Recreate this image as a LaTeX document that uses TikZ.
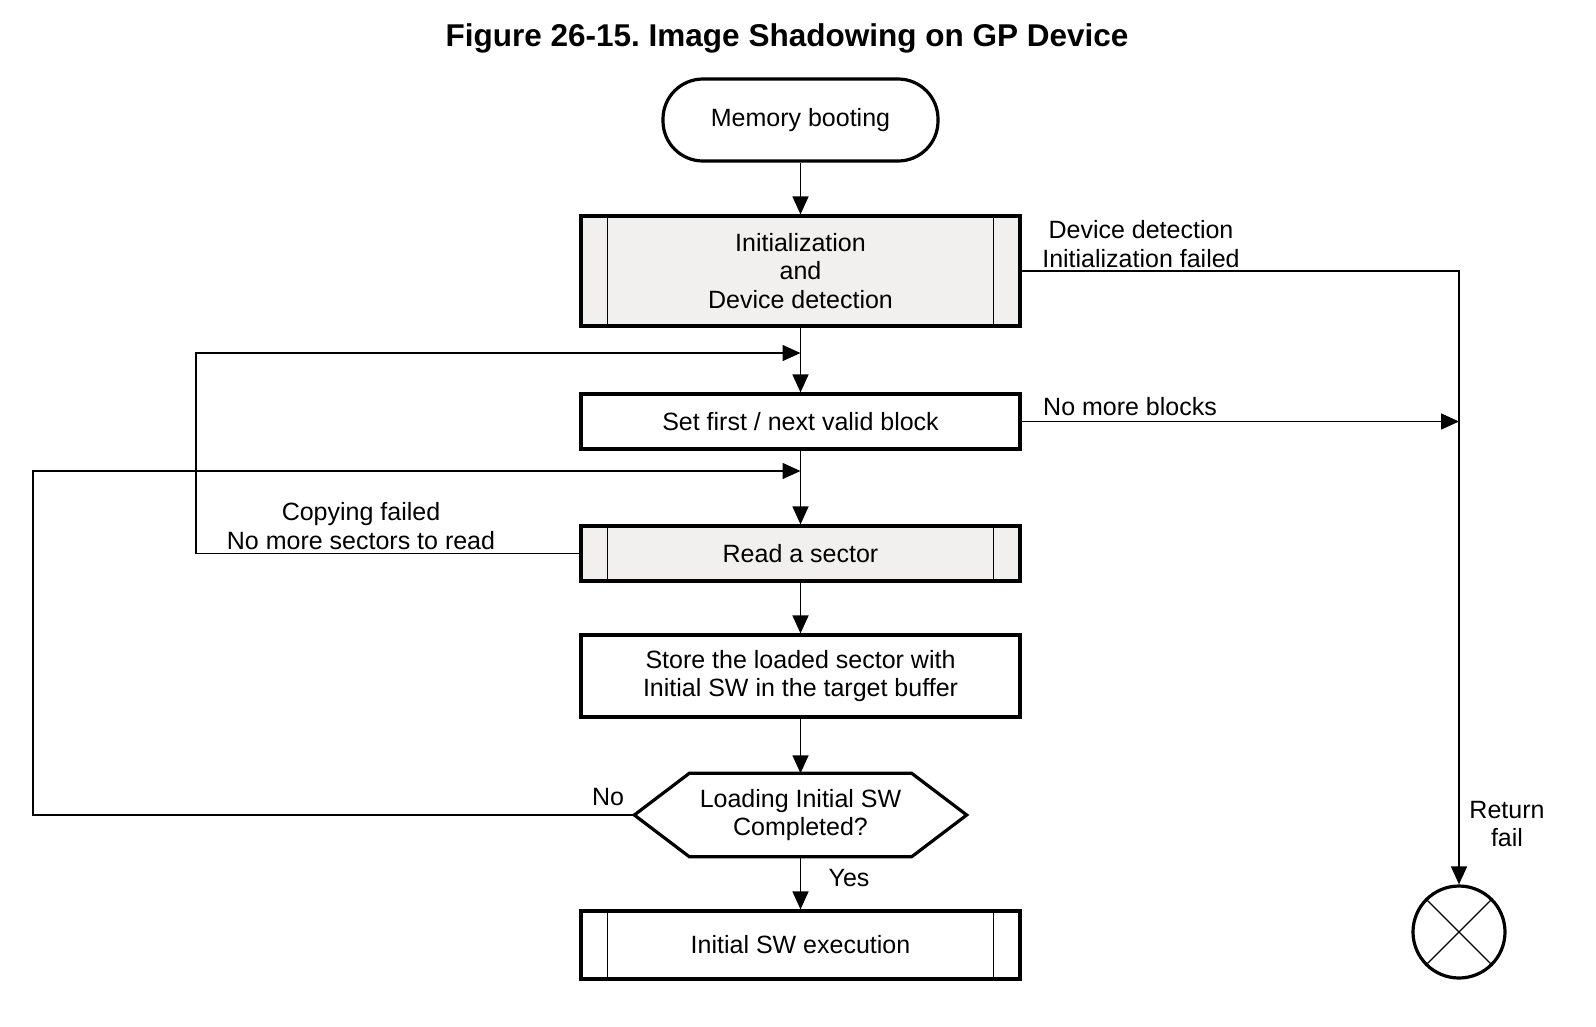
\documentclass[tikz,border=0pt]{standalone}
\usepackage{fontspec}
\setmainfont{Liberation Sans}
\usetikzlibrary{arrows.meta,calc}
\definecolor{boxgray}{HTML}{F1F0EE}
\frenchspacing
\begin{document}
\begin{tikzpicture}[x=1pt,y=-1pt,
  every node/.style={font=\fontsize{25}{28.5}\selectfont, inner sep=0pt},
  procbox/.style={draw, line width=3.2pt, minimum width=439pt, align=center},
  subproc/.style={procbox, fill=boxgray},
  conn/.style={line width=1.5pt},
  arr/.style={conn, -{Triangle[length=18pt,width=16pt]}},
  lbl/.style={align=center},
  inner/.style={line width=1.3pt}]
\useasboundingbox (0,0) rectangle (1596,1026);
\node[font=\fontsize{31.5}{36}\selectfont\bfseries] (title) at (787,38) {Figure 26-15. Image Shadowing on GP Device};
\node[draw, line width=3.2pt, rounded corners=40pt, minimum width=275pt, minimum height=82pt] (mem) at (800.5,120) {Memory booting};
\node[subproc, minimum height=110pt] (init) at (800.5,271) {Initialization\\and\\Device detection};
\node[procbox, minimum height=55pt] (set) at (800.5,421.5) {Set first / next valid block};
\node[subproc, minimum height=55pt] (read) at (800.5,553.5) {Read a sector};
\node[procbox, minimum height=82pt] (store) at (800.5,676) {Store the loaded sector with\\Initial SW in the target buffer};
\node[minimum width=332pt, minimum height=83pt, align=center] (dec) at (800.5,815) {Loading Initial SW\\Completed?};
\draw[line width=3.2pt, line join=miter] (dec.west) -- ([xshift=55pt]dec.north west) -- ([xshift=-55pt]dec.north east) -- (dec.east) -- ([xshift=-55pt]dec.south east) -- ([xshift=55pt]dec.south west) -- cycle;
\node[procbox, minimum height=68pt] (exec) at (800.5,945) {Initial SW execution};
\node[draw, circle, line width=3.2pt, minimum size=92pt] (end) at (1459,932) {};
\draw[inner] (end.north west) -- (end.south east) (end.north east) -- (end.south west);
\foreach \n in {init,read,exec} {
  \draw[inner] ([xshift=28pt]\n.north west) -- ([xshift=28pt]\n.south west);
  \draw[inner] ([xshift=-28pt]\n.north east) -- ([xshift=-28pt]\n.south east);
}
\coordinate (m1) at (800.5,353);
\coordinate (m2) at (800.5,471);
\coordinate (lx1) at (196,0);
\coordinate (lx2) at (33,0);
\coordinate (rx) at (1459,0);
\draw[arr] (mem) -- (init);
\draw[arr] (init) -- (set);
\draw[arr] (set) -- (read);
\draw[arr] (read) -- (store);
\draw[arr] (store) -- (dec.north);
\draw[arr] (dec.south) -- (exec);
\draw[arr] (read.west) -- (read.west -| lx1) |- (m1);
\draw[arr] (dec.west) -- (dec.west -| lx2) |- (m2);
\draw[arr] (init.east) -- (init.east -| rx) -- (end.north);
\draw[arr] (set.east) -- (set.east -| rx);
\node[lbl] (l1) at (1141,244) {Device detection\\Initialization failed};
\node[anchor=base west] (l2) at (1043,415) {No more blocks};
\node[lbl] (l3) at (361,526) {Copying failed\\No more sectors to read};
\node (l4) at (608,797) {No};
\node (l5) at (849,878) {Yes};
\node[lbl] (l6) at (1507,824) {Return\\fail};
\end{tikzpicture}
\end{document}
